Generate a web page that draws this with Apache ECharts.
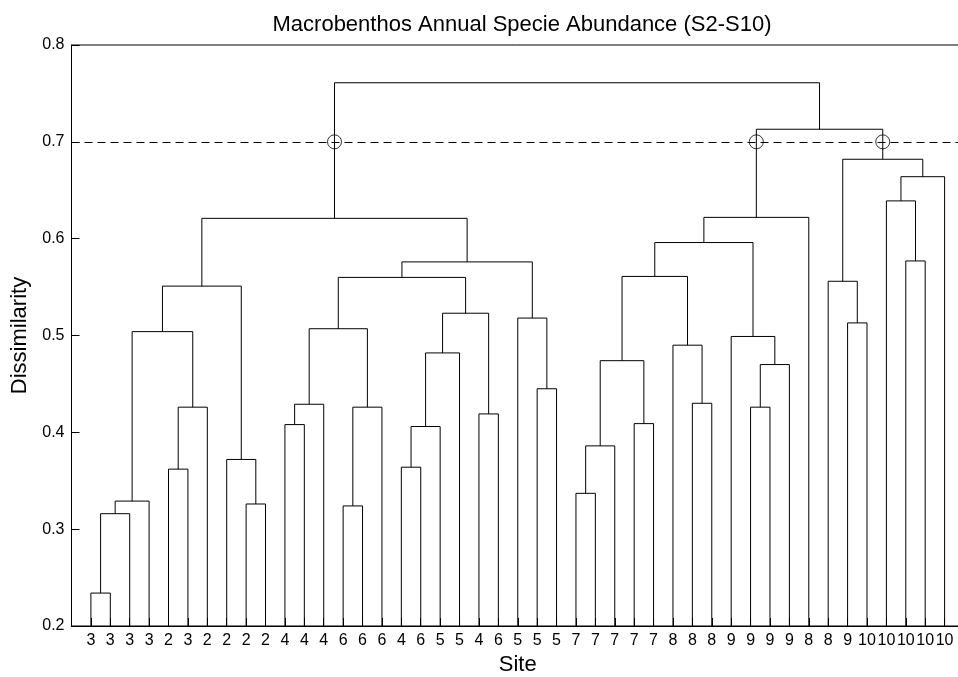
<!DOCTYPE html>
<html><head><meta charset="utf-8">
<script src="https://cdn.jsdelivr.net/npm/echarts/dist/echarts.min.js"></script>
<style>html,body{margin:0;padding:0;background:#fff}#c{width:958px;height:677px}</style>
</head><body><div id="c"></div>
<script>
// Leaf labels in dendrogram order (left to right)
const leafLabels = ['3','3','3','3','2','3','2','2','2','2',
                    '4','4','4','6','6','6','4','6','5','5',
                    '4','6','5','5','5',
                    '7','7','7','7','7',
                    '8','8','8',
                    '9','9','9','9',
                    '8','8','9',
                    '10','10','10','10','10'];
// Linkage: ids 1..45 are leaves (by position), id 46+k is merge k
const mergeLeft   = [1,46,47,5,49,48,9,8,51,11,55,14,57,56,17,60,61,21,62,59,24,23,65,54,
                     26,70,29,71,32,31,73,35,77,34,76,80,40,39,43,42,85,83,81,69];
const mergeRight  = [2,3,4,6,7,50,10,52,53,12,13,15,16,58,18,19,20,22,63,64,25,66,67,68,
                     27,28,30,72,33,74,75,36,37,78,79,38,41,82,44,84,45,86,87,88];
const mergeHeight = [0.234,0.316,0.329,0.362,0.426,0.504,0.326,0.372,0.551,0.408,0.429,0.324,0.426,0.507,
                     0.364,0.406,0.482,0.419,0.523,0.560,0.445,0.518,0.576,0.621,
                     0.337,0.386,0.409,0.474,0.430,0.490,0.561,0.426,0.470,0.499,0.596,0.622,
                     0.513,0.556,0.577,0.639,0.664,0.682,0.713,0.761];
const cutoff = 0.7;
const yMin = 0.2, yMax = 0.8, yStep = 0.1;

const N = leafLabels.length;
const nodeX = [], nodeH = [];
for (let i = 1; i <= N; i++) { nodeX[i] = i; nodeH[i] = yMin; }
const linkData = [];
const circleData = [];
mergeLeft.forEach((a, k) => {
  const b = mergeRight[k], h = mergeHeight[k], id = N + 1 + k;
  nodeX[id] = (nodeX[a] + nodeX[b]) / 2;
  nodeH[id] = h;
  linkData.push([nodeX[a], nodeH[a], nodeX[b], nodeH[b], h]);
  [a, b].forEach(c => { if (nodeH[c] < cutoff && h > cutoff) circleData.push([nodeX[c], cutoff]); });
});

const FONT = '"Liberation Sans", Arial, Helvetica, sans-serif';
const chart = echarts.init(document.getElementById('c'), null, {renderer: 'canvas'});
chart.setOption({
  backgroundColor: '#fff',
  animation: false,
  title: {
    text: 'Macrobenthos Annual Specie Abundance (S2-S10)',
    left: 517, top: 9, textAlign: 'center',
    textStyle: {fontFamily: FONT, fontSize: 22, fontWeight: 'normal', color: '#000'}
  },
  grid: {left: 71.5, right: -6, top: 45, bottom: 51, containLabel: false, outerBoundsMode: 'none',
         show: true, borderColor: '#000', borderWidth: 1, backgroundColor: 'transparent'},
  xAxis: {
    type: 'value', min: 0, max: N + 1, interval: 1,
    name: 'Site', nameLocation: 'middle', nameGap: 26,
    nameTextStyle: {fontFamily: FONT, fontSize: 22, color: '#000'},
    axisLine: {lineStyle: {color: '#000', width: 1}},
    axisTick: {inside: true, length: 8, lineStyle: {color: '#000'}},
    axisLabel: {
      fontFamily: FONT, fontSize: 16, color: '#000', margin: 7,
      showMinLabel: true, showMaxLabel: true, hideOverlap: false,
      formatter: v => (v >= 1 && v <= N) ? leafLabels[v - 1] : ''
    },
    splitLine: {show: false}
  },
  yAxis: {
    type: 'value', min: yMin, max: yMax, interval: yStep,
    name: 'Dissimilarity', nameLocation: 'middle', nameGap: 40, nameRotate: 90,
    nameTextStyle: {fontFamily: FONT, fontSize: 22, color: '#000'},
    axisLine: {show: true, lineStyle: {color: '#000', width: 1}},
    axisTick: {show: true, inside: true, length: 8, lineStyle: {color: '#000'}},
    axisLabel: {fontFamily: FONT, fontSize: 16, color: '#000', margin: 7, formatter: v => v.toFixed(1)},
    splitLine: {show: false}
  },
  series: [
    {
      type: 'custom',
      data: linkData,
      encode: {x: [0, 2], y: [1, 3, 4]},
      renderItem: (params, api) => {
        const xa = api.value(0), ha = api.value(1), xb = api.value(2), hb = api.value(3), h = api.value(4);
        return {
          type: 'polyline',
          shape: {points: [api.coord([xa, ha]), api.coord([xa, h]), api.coord([xb, h]), api.coord([xb, hb])]},
          style: {stroke: '#000', lineWidth: 1, fill: null}
        };
      },
      z: 3
    },
    {
      type: 'scatter',
      data: circleData,
      symbol: 'circle', symbolSize: 14,
      itemStyle: {color: 'rgba(0,0,0,0)', borderColor: '#000', borderWidth: 1},
      z: 4,
      markLine: {
        silent: true, symbol: ['none', 'none'], label: {show: false},
        lineStyle: {color: '#000', type: [8, 5], width: 1},
        data: [{yAxis: cutoff}]
      }
    }
  ]
});
</script>
</body></html>
